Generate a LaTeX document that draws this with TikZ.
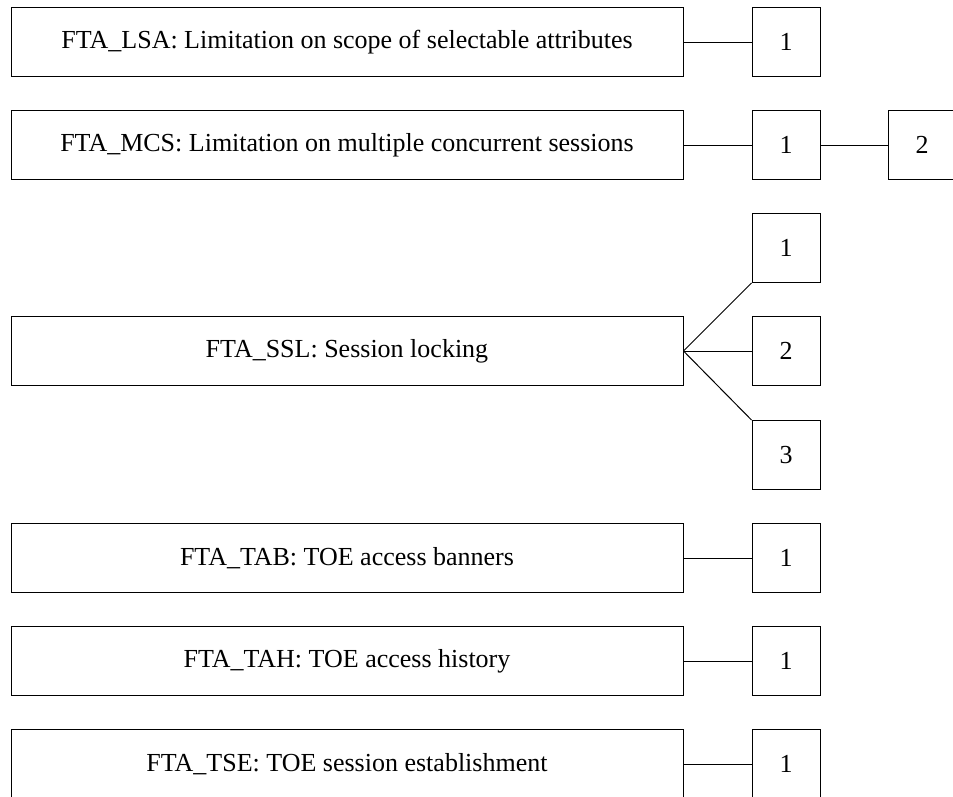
\documentclass[tikz,border=0pt]{standalone}
\usepackage{fontspec}
\setmainfont{Liberation Serif}

\begin{document}
\begin{tikzpicture}[x=1pt,y=-1pt, every node/.style={font=\fontsize{26}{30}\selectfont},fam/.style={draw,line width=1pt,minimum width=672pt,minimum height=69pt,inner sep=0pt},cmp/.style={draw,line width=1pt,minimum width=68pt,minimum height=69pt,inner sep=0pt},]
\clip (0,0) rectangle (953,796);
\node[fam] (lsa) at (347,42) {FTA\_LSA: Limitation on scope of selectable attributes};
\node[fam] (mcs) at (347,145) {FTA\_MCS: Limitation on multiple concurrent sessions};
\node[fam] (ssl) at (347,351) {FTA\_SSL: Session locking};
\node[fam] (tab) at (347,558) {FTA\_TAB: TOE access banners};
\node[fam] (tah) at (347,661) {FTA\_TAH: TOE access history};
\node[fam] (tse) at (347,764) {FTA\_TSE: TOE session establishment};
\node[cmp] (lsa1) at (786,42) {1};
\node[cmp] (mcs1) at (786,145) {1};
\node[cmp] (mcs2) at (922,145) {2};
\node[cmp] (ssl1) at (786,248) {1};
\node[cmp] (ssl2) at (786,351) {2};
\node[cmp] (ssl3) at (786,455) {3};
\node[cmp] (tab1) at (786,558) {1};
\node[cmp] (tah1) at (786,661) {1};
\node[cmp] (tse1) at (786,764) {1};
\draw[line width=1pt] (lsa) -- (lsa1);
\draw[line width=1pt] (mcs) -- (mcs1) -- (mcs2);
\draw[line width=1pt] (ssl.east) -- (ssl1.south west);
\draw[line width=1pt] (ssl.east) -- (ssl2);
\draw[line width=1pt] (ssl.east) -- (ssl3.north west);
\draw[line width=1pt] (tab) -- (tab1);
\draw[line width=1pt] (tah) -- (tah1);
\draw[line width=1pt] (tse) -- (tse1);
\end{tikzpicture}
\end{document}
